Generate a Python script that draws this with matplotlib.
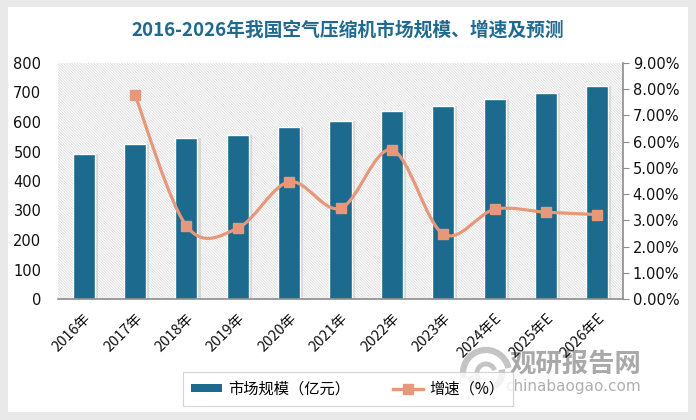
import matplotlib
matplotlib.use("Agg")
import matplotlib.pyplot as plt
import numpy as np
from matplotlib.path import Path
from matplotlib.patches import PathPatch, Rectangle, Patch, Arc
from matplotlib.lines import Line2D
from matplotlib.ticker import FuncFormatter, MultipleLocator

plt.rcParams['font.family'] = ['DejaVu Sans', 'Noto Sans CJK SC']
plt.rcParams['hatch.linewidth'] = 0.6
CJK = ['Noto Sans CJK SC', 'DejaVu Sans']

categories = ["2016年", "2017年", "2018年", "2019年", "2020年", "2021年",
              "2022年", "2023年", "2024年E", "2025年E", "2026年E"]
market_size = [490, 527, 545, 557, 583, 604, 638, 655, 678, 699, 722]
growth_pct = [None, 7.78, 2.79, 2.70, 4.47, 3.46, 5.69, 2.48, 3.42, 3.31, 3.22]

title = "2016-2026年我国空气压缩机市场规模、增速及预测"
bar_label = "市场规模（亿元）"
line_label = "增速（%）"

BAR = "#1c6a8e"
LINE = "#e8987a"
W, H = 696, 420

fig = plt.figure(figsize=(W / 100, H / 100), dpi=100, facecolor="#e9e9e9")
card = Rectangle((8 / W, 1 - 412 / H), 680 / W, 405 / H,
                 transform=fig.transFigure, facecolor="white",
                 edgecolor="none", zorder=-10)
fig.patches.append(card)

# watermark (behind chart content)
fig.text(575 / W, 1 - 365 / H, "观研报告网", ha="center", va="center", fontsize=19,
         fontweight="bold", color="#a9a9a9", family=CJK, zorder=-5)
fig.text(573 / W, 1 - 387 / H, "chinabaogao.com", ha="center", va="center",
         fontsize=11, color="#b0b0b0", zorder=-5)
for (r, t1, t2, lw) in [(46, 20, 200, 4.5), (32, 200, 380, 4.5), (18, 30, 250, 3.5)]:
    fig.patches.append(Arc((486 / W, 1 - 373 / H), r / W, r / H, theta1=t1, theta2=t2,
                           transform=fig.transFigure, color="#c4c4c4", lw=lw, zorder=-6))

ax = fig.add_axes([58 / W, 1 - 299 / H, (623 - 58) / W, (299 - 63) / H])
ax.set_facecolor("white")
ax.add_patch(Rectangle((0, 0), 1, 1, transform=ax.transAxes, facecolor="white",
                       edgecolor="#dcdcdc", hatch="\\\\\\\\\\\\\\\\\\\\\\\\", lw=0, zorder=0))

x = np.arange(len(categories))
ax.bar(x + 0.06, market_size, width=0.43, color="#bdbdbd", alpha=0.45,
       edgecolor="none", zorder=1)
ax.bar(x, market_size, width=0.43, color=BAR, edgecolor="white", lw=1.0, zorder=2)

ax.set_xlim(-0.5, 10.5)
ax.set_ylim(0, 800)
ax.yaxis.set_major_locator(MultipleLocator(100))
for s in ["left", "top", "right"]:
    ax.spines[s].set_visible(False)
ax.spines["bottom"].set_color("#8c8c8c")
ax.spines["bottom"].set_linewidth(1.2)
ax.tick_params(axis="y", length=0, labelsize=10.5, pad=12, labelcolor="#111111")
ax.tick_params(axis="x", length=0, pad=9)
ax.set_xticks(x)
ax.set_xticklabels(categories, rotation=45, ha="right", rotation_mode="anchor",
                   fontsize=10.5, family=CJK, color="#111111")

ax2 = ax.twinx()
ax2.set_ylim(0, 9)
ax2.yaxis.set_major_locator(MultipleLocator(1))
ax2.yaxis.set_major_formatter(FuncFormatter(lambda v, p: f"{v:.2f}%"))
for s in ["left", "top", "bottom"]:
    ax2.spines[s].set_visible(False)
ax2.spines["right"].set_color("#8c8c8c")
ax2.spines["right"].set_linewidth(1.2)
ax2.tick_params(axis="y", length=4, color="#8c8c8c", labelsize=10.5, pad=3,
                labelcolor="#111111")

pts = np.array([(i, g) for i, g in enumerate(growth_pct) if g is not None], float)
verts = [tuple(pts[0])]
codes = [Path.MOVETO]
n = len(pts)
for i in range(n - 1):
    p0 = pts[i - 1] if i > 0 else pts[i]
    p1, p2 = pts[i], pts[i + 1]
    p3 = pts[i + 2] if i + 2 < n else pts[i + 1]
    c1 = p1 + (p2 - p0) / 6
    c2 = p2 - (p3 - p1) / 6
    verts += [tuple(c1), tuple(c2), tuple(p2)]
    codes += [Path.CURVE4] * 3
ax2.add_patch(PathPatch(Path(verts, codes), facecolor="none", edgecolor=LINE,
                        lw=2.3, zorder=3, capstyle="round"))
ax2.plot(pts[:, 0], pts[:, 1], ls="none", marker="s", ms=7.5, color=LINE, zorder=4)

fig.text(348 / W, 1 - 30 / H, title, ha="center", va="center", fontsize=13.5,
         fontweight="bold", color="#1f6a8e", family=CJK)

handles = [Patch(facecolor=BAR, edgecolor="none"),
           Line2D([], [], color=LINE, lw=2.4, marker="s", ms=6.5)]
leg = fig.legend(handles, [bar_label, line_label], loc="center",
                 bbox_to_anchor=(348 / W, 1 - 389 / H), ncol=2, frameon=True,
                 fancybox=False, edgecolor="#c8c8c8", prop={"family": CJK, "size": 11},
                 handlelength=2.0, handleheight=0.45, columnspacing=2.8,
                 handletextpad=0.4, borderpad=0.55)
leg.get_frame().set_linewidth(0.8)

fig.savefig("out.png", dpi=100, facecolor=fig.get_facecolor())
